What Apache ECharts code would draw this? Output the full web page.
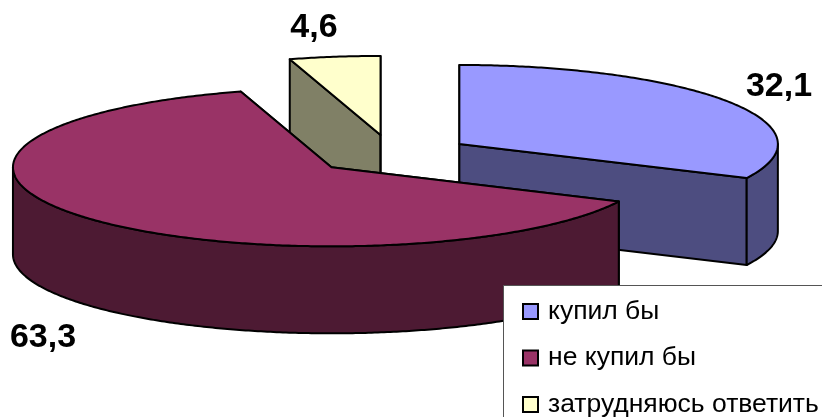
<!DOCTYPE html>
<html>
<head>
<meta charset="utf-8">
<style>html,body{margin:0;padding:0;background:#fff;overflow:hidden}#main{width:822px;height:417px}</style>
<script src="https://cdn.jsdelivr.net/npm/echarts@6/dist/echarts.min.js"></script>
</head>
<body>
<div id="main"></div>
<script>
// data
var categories = ['купил бы', 'не купил бы', 'затрудняюсь ответить'];
var shares = [32.1, 63.3, 4.6];

// styles
var topColors = ['#9999ff', '#993366', '#ffffcc'];
var sideColors = ['#4d4d80', '#4d1a33', '#808066'];
var drawOrder = [1, 3, 2];
// where each value label sits
var labelPos = [[779, 87], [43, 338], [314, 28]];

// fake 3d pie geometry
var cx = 392, cy = 154.5, rx = 318.5, ry = 79, depth = 87, explode = 0.25;

var total = shares.reduce(function (a, b) { return a + b; }, 0);

function rim(c, a, dy) {
    return [c[0] + rx * Math.sin(a), c[1] - ry * Math.cos(a) + (dy || 0)];
}

function arcPoints(c, a0, a1, dy) {
    var pts = [];
    var n = Math.max(2, Math.ceil((a1 - a0) / 0.01));
    for (var i = 0; i <= n; i++) {
        pts.push(rim(c, a0 + (a1 - a0) * i / n, dy));
    }
    return pts;
}

function face(points, fill) {
    return {
        type: 'polygon',
        shape: { points: points },
        style: { fill: fill, stroke: '#000', lineWidth: 2, lineJoin: 'round' }
    };
}

function renderSlice(idx) {
    return function (params, api) {
        var value = api.value(0);
        var before = 0;
        for (var i = 0; i < idx; i++) before += shares[i];
        var a0 = before / total * Math.PI * 2;
        var a1 = (before + value) / total * Math.PI * 2;
        var mid = (a0 + a1) / 2;
        var c = [cx + explode * rx * Math.sin(mid), cy - explode * ry * Math.cos(mid)];
        var children = [];

        // cut faces
        [a0, a1].forEach(function (a) {
            var p = rim(c, a);
            var p2 = rim(c, a, depth);
            children.push(face([c, p, p2, [c[0], c[1] + depth]], sideColors[idx]));
        });

        // outer wall, only the part turned to the viewer
        var w0 = Math.max(a0, Math.PI / 2), w1 = Math.min(a1, Math.PI * 1.5);
        if (w1 > w0) {
            var upper = arcPoints(c, w0, w1, 0);
            var lower = arcPoints(c, w0, w1, depth).reverse();
            children.push(face(upper.concat(lower), sideColors[idx]));
        }

        // top
        children.push(face([c].concat(arcPoints(c, a0, a1, 0)), topColors[idx]));

        // value label
        children.push({
            type: 'text',
            style: {
                text: String(value).replace('.', ','),
                x: labelPos[idx][0],
                y: labelPos[idx][1],
                align: 'center',
                verticalAlign: 'middle',
                font: 'bold 34px "Liberation Sans"',
                fill: '#000'
            }
        });
        return { type: 'group', children: children };
    };
}

var series = categories.map(function (name, i) {
    return {
        name: name,
        type: 'custom',
        coordinateSystem: 'none',
        z: drawOrder[i],
        silent: true,
        renderItem: renderSlice(i),
        itemStyle: { color: topColors[i] },
        data: [[shares[i]]]
    };
});

var myChart = echarts.init(document.getElementById('main'));
var option = {
    animation: false,
    backgroundColor: '#fff',
    graphic: [{
        type: 'rect',
        z: 50,
        shape: { x: 503.5, y: 285.5, width: 400, height: 200 },
        style: { fill: '#fff', stroke: '#555', lineWidth: 1 }
    }],
    legend: {
        z: 60,
        left: 517,
        top: 293,
        width: 400,
        height: 200,
        orient: 'vertical',
        icon: 'rect',
        itemWidth: 15,
        itemHeight: 15,
        itemGap: 19.5,
        selectedMode: false,
        itemStyle: { borderColor: '#000', borderWidth: 2 },
        textStyle: {
            color: '#000',
            fontFamily: 'Liberation Sans',
            fontSize: 26.5,
            padding: [0, 0, 0, 5]
        },
        data: categories
    },
    series: series
};
myChart.setOption(option);
</script>
</body>
</html>
